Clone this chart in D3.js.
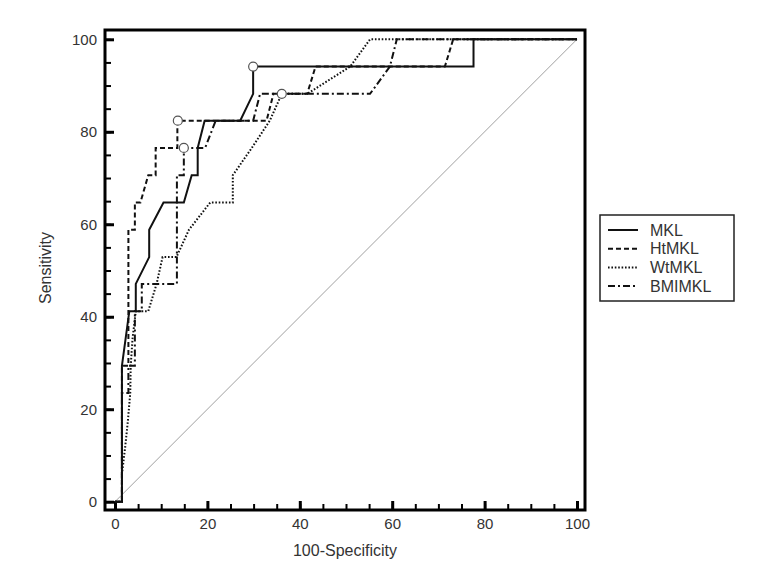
<!DOCTYPE html>
<html>
<head>
<meta charset="utf-8">
<script src="https://cdn.jsdelivr.net/npm/d3@7"></script>
<style>
  body { margin: 0; background: #fff; }
  text { font-family: "Liberation Sans", Arial, sans-serif; fill: #333; }
</style>
</head>
<body>
<div class="chart"></div>
<script>
// ROC data: 100-Specificity (x) and Sensitivity (y) per model
let seriesNames = ['MKL', 'HtMKL', 'WtMKL', 'BMIMKL'];

let mklX = [0, 1.5, 1.5, 3.1, 4.5, 4.5, 7.4, 7.4, 10.5, 14.9, 16.6, 17.9, 17.9, 19.4, 27.1, 29.9, 29.9, 77.6, 77.6, 100];
let mklY = [0, 0, 29.4, 41.2, 41.2, 47.1, 52.9, 58.8, 64.7, 64.7, 70.6, 70.6, 76.5, 82.4, 82.4, 88.2, 94.1, 94.1, 100, 100];

let htX = [0, 1.5, 1.5, 2.9, 2.9, 4.3, 4.3, 5.5, 7.2, 8.8, 8.8, 13.5, 13.5, 32.8, 34.3, 41.6, 43.4, 71.4, 73.2, 100];
let htY = [0, 0, 29.4, 29.4, 58.8, 58.8, 64.7, 64.7, 70.6, 70.6, 76.5, 76.5, 82.4, 82.4, 88.2, 88.2, 94.1, 94.1, 100, 100];

let wtX = [0, 1.5, 1.5, 2.2, 2.8, 3.3, 3.4, 3.8, 4.5, 7.2, 9.0, 10.3, 13.3, 16.0, 20.6, 25.5, 25.5, 29.6, 33.5, 36.1, 41.6, 50.9, 55.2, 100];
let wtY = [0, 0, 5.9, 11.8, 17.6, 23.5, 29.4, 35.3, 41.2, 41.2, 47.1, 52.9, 52.9, 58.8, 64.7, 64.7, 70.6, 76.5, 82.4, 88.2, 88.2, 94.1, 100, 100];

let bmiX = [0, 1.5, 1.5, 2.9, 2.9, 4.3, 4.3, 5.8, 5.8, 13.4, 13.4, 14.9, 14.9, 19.5, 21.8, 29.9, 31.4, 55.2, 59.5, 61.0, 100];
let bmiY = [0, 0, 23.5, 23.5, 29.4, 29.4, 41.2, 41.2, 47.1, 47.1, 70.6, 70.6, 76.5, 76.5, 82.4, 82.4, 88.2, 88.2, 94.1, 100, 100];

// optimal criterion markers
let optX = [29.9, 13.6, 36.1, 14.9];
let optY = [94.1, 82.4, 88.2, 76.5];

let xTicks = [0, 20, 40, 60, 80, 100];
let yTicks = [0, 20, 40, 60, 80, 100];
let minorTicks = d3.range(0, 101, 5);

let dashes = ['none', '5,3', '1.6,1.8', '7,3,2,3'];

let width = 780;
let height = 585;

let svg = d3.select('.chart')
  .append('svg')
  .attr('width', width)
  .attr('height', height);

let xScale = d3.scaleLinear().domain([0, 100]).range([115, 577]);
let yScale = d3.scaleLinear().domain([0, 100]).range([501.7, 39.3]);

let frameLeft = 105, frameRight = 585, frameTop = 30, frameBottom = 510;

// minor ticks
let xMinor = d3.axisBottom(xScale).tickValues(minorTicks).tickSize(-6).tickFormat('');
let yMinor = d3.axisLeft(yScale).tickValues(minorTicks).tickSize(-6).tickFormat('');
svg.append('g').attr('transform', 'translate(0,' + frameBottom + ')').call(xMinor)
  .call(g => g.select('.domain').remove())
  .selectAll('line').attr('stroke', '#000').attr('stroke-width', 2);
svg.append('g').attr('transform', 'translate(' + frameLeft + ',0)').call(yMinor)
  .call(g => g.select('.domain').remove())
  .selectAll('line').attr('stroke', '#000').attr('stroke-width', 2);

// major ticks + labels
let xAxis = d3.axisBottom(xScale).tickValues(xTicks).tickSize(-9).tickPadding(8);
let yAxis = d3.axisLeft(yScale).tickValues(yTicks).tickSize(-9).tickPadding(8);
let gx = svg.append('g').attr('transform', 'translate(0,' + frameBottom + ')').call(xAxis);
gx.select('.domain').remove();
gx.selectAll('line').attr('stroke', '#000').attr('stroke-width', 3);
gx.selectAll('text').style('font-size', '15px').attr('fill', '#333');
let gy = svg.append('g').attr('transform', 'translate(' + frameLeft + ',0)').call(yAxis);
gy.select('.domain').remove();
gy.selectAll('line').attr('stroke', '#000').attr('stroke-width', 3);
gy.selectAll('text').style('font-size', '15px').attr('fill', '#333');

// diagonal reference
svg.append('line')
  .attr('x1', xScale(0)).attr('y1', yScale(0))
  .attr('x2', xScale(100)).attr('y2', yScale(100))
  .attr('stroke', '#888')
  .attr('stroke-width', 0.8);

let line = d3.line().x(d => xScale(d[0])).y(d => yScale(d[1]));
let allX = [mklX, htX, wtX, bmiX];
let allY = [mklY, htY, wtY, bmiY];

allX.forEach((xs, i) => {
  let pts = xs.map((x, j) => [x, allY[i][j]]);
  svg.append('path')
    .datum(pts)
    .attr('d', line)
    .attr('fill', 'none')
    .attr('stroke', '#111')
    .attr('stroke-width', 2)
    .attr('stroke-dasharray', dashes[i]);
});

svg.selectAll('.opt')
  .data(optX)
  .enter()
  .append('circle')
  .attr('class', 'opt')
  .attr('cx', d => xScale(d))
  .attr('cy', (d, i) => yScale(optY[i]))
  .attr('r', 4.5)
  .attr('fill', '#fff')
  .attr('stroke', '#555')
  .attr('stroke-width', 1.2);

// frame
svg.append('rect')
  .attr('x', frameLeft).attr('y', frameTop)
  .attr('width', frameRight - frameLeft).attr('height', frameBottom - frameTop)
  .attr('fill', 'none')
  .attr('stroke', '#000')
  .attr('stroke-width', 3);

// axis titles
svg.append('text')
  .attr('x', (frameLeft + frameRight) / 2)
  .attr('y', 556)
  .attr('text-anchor', 'middle')
  .style('font-size', '16px')
  .text('100-Specificity');
svg.append('text')
  .attr('transform', 'rotate(-90)')
  .attr('x', -268)
  .attr('y', 51)
  .attr('text-anchor', 'middle')
  .style('font-size', '16px')
  .text('Sensitivity');

// legend
let legend = svg.append('g').attr('id', 'legend');
legend.append('rect')
  .attr('x', 600).attr('y', 215)
  .attr('width', 134).attr('height', 86)
  .attr('fill', '#fff')
  .attr('stroke', '#222')
  .attr('stroke-width', 1.5);
let items = legend.selectAll('.legend-item')
  .data(seriesNames)
  .enter()
  .append('g')
  .attr('class', 'legend-item')
  .attr('transform', (d, i) => 'translate(0,' + (230 + i * 18.7) + ')');
items.append('line')
  .attr('x1', 608).attr('x2', 638)
  .attr('stroke', '#111')
  .attr('stroke-width', 2)
  .attr('stroke-dasharray', (d, i) => dashes[i]);
items.append('text')
  .attr('x', 650)
  .attr('dy', '0.35em')
  .style('font-size', '16px')
  .text(d => d);
</script>
</body>
</html>
